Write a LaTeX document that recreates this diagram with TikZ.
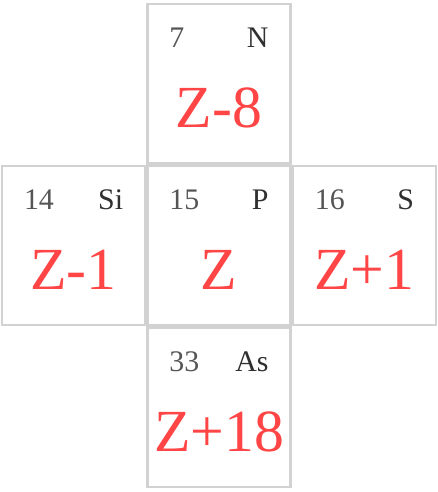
\documentclass[tikz,border=0pt]{standalone}
\usepackage{fontspec}
\setmainfont{Liberation Serif}
\usetikzlibrary{positioning}

\definecolor{cellgray}{HTML}{D2D2D2}
\definecolor{numgray}{HTML}{555555}
\definecolor{symgray}{HTML}{303030}
\definecolor{zred}{HTML}{FF4545}

\begin{document}
\begin{tikzpicture}[
    cell/.style={draw=cellgray,line width=1.4pt,fill=white,
        minimum width=2.86cm,minimum height=3.19cm,inner sep=0pt},
    num/.style={anchor=base west,text=numgray,font=\fontsize{17}{19}\selectfont},
    sym/.style={anchor=base east,text=symgray,font=\fontsize{17}{19}\selectfont},
    rel/.style={text=zred,font=\fontsize{34}{38}\selectfont}]

\useasboundingbox (0,0) rectangle (8.76,-9.84);

% Cells
\node[cell] (P) at (4.38,-4.91) {};
\node[cell,above=0pt of P] (N) {};
\node[cell,left=0pt of P] (Si) {};
\node[cell,right=0pt of P] (S) {};
\node[cell,below=0pt of P] (As) {};

% Numbers, symbols and offsets
\foreach \c/\z/\s/\r in {N/7/N/Z-8,Si/14/Si/Z-1,P/15/P/Z,S/16/S/Z+1,As/33/As/Z+18}{
    \node[num] (\c num) at ([xshift=0.34cm,yshift=-0.9cm]\c.north west) {\z};
    \node[sym] (\c sym) at ([xshift=-0.34cm,yshift=-0.9cm]\c.north east) {\s};
    \node[rel] (\c rel) at ([yshift=-0.48cm]\c.center) {\r};
}

\end{tikzpicture}
\end{document}
